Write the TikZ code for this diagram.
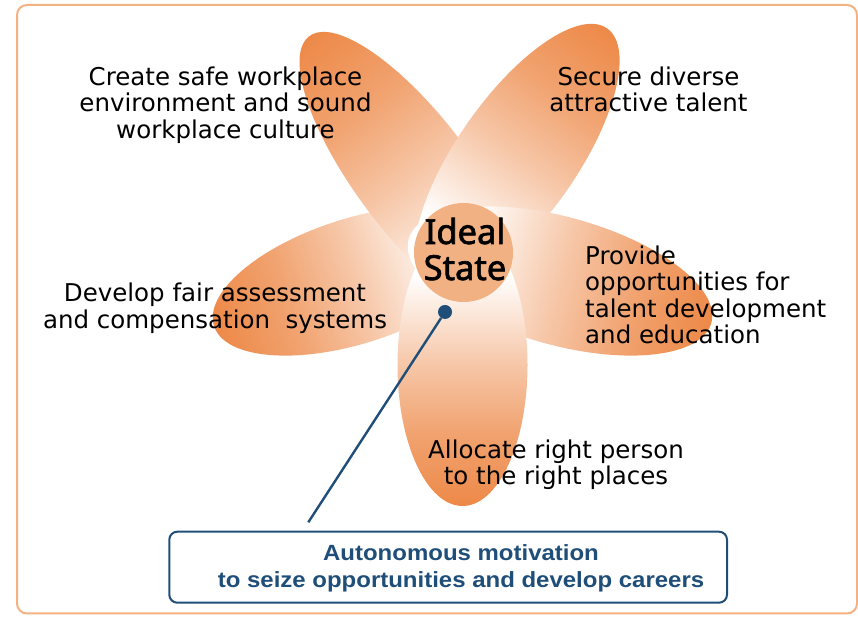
\documentclass[tikz,border=0pt]{standalone}
\usepackage{fontspec}
\newfontfamily\petalfont{DejaVu Sans}
\newfontfamily\hubfont[FakeBold=2]{Noto Sans}
\newfontfamily\notefont[FakeStretch=1.09]{Liberation Sans}

\definecolor{petal}{RGB}{237,137,72}
\definecolor{hubfill}{RGB}{241,177,130}
\definecolor{rim}{RGB}{244,177,131}
\definecolor{navy}{RGB}{31,78,121}

% white at the heart of the flower, orange toward each petal tip
\pgfdeclarehorizontalshading{petalshade}{100bp}{%
  color(0bp)=(white); color(34bp)=(white); color(50bp)=(petal!48);
  color(62bp)=(petal!78); color(75bp)=(petal); color(100bp)=(petal)}

% #1,#2 centre, #3 direction of the tip, #4 half length, #5 half width
\newcommand\flowerpetal[5]{%
  \begin{scope}[transform canvas={shift={(#1,#2)},rotate=#3}]
    \shade[shading=petalshade] (0,0) ellipse [x radius=#4pt, y radius=#5pt];
  \end{scope}}

\begin{document}
\begin{tikzpicture}[x=1pt,y=1pt,
  petaltext/.style={font=\petalfont\fontsize{24.5}{26.6}\selectfont,
    align=center, inner sep=0pt, text=black},
  hub/.style={circle, fill=hubfill, minimum size=99pt, inner sep=0pt},
  hubtext/.style={font=\hubfont\fontsize{34.5}{36}\selectfont,
    align=center, inner sep=0pt},
  pinstyle/.style={circle, fill=navy, minimum size=14pt, inner sep=0pt},
  leader/.style={draw=navy, line width=2.4pt},
  goalbox/.style={draw=navy, line width=2pt, rounded corners=8pt,
    minimum width=557.7pt, minimum height=71pt, inner sep=0pt},
  goaltext/.style={font=\notefont\bfseries\fontsize{22}{26.6}\selectfont,
    text=navy, align=center, inner sep=0pt},
  rimline/.style={draw=rim, line width=2pt, rounded corners=10pt}]

\useasboundingbox (0,0) rectangle (858,617);

% outer frame
\draw[rimline] (17,3.5) rectangle (857,612);

% five petals, back to front
\flowerpetal{355}{336}{197.7}{148}{62.5}
\flowerpetal{414.6}{441}{127}{175}{58}
\flowerpetal{517}{460}{55}{157}{60}
\flowerpetal{560}{336}{-15.5}{157}{64}
\flowerpetal{462.5}{252}{-90}{141}{65}

% centre of the flower (multi-line nodes sit on the baseline of their last line)
\node[hub] (ideal) at (463.5,364.5) {};
\node[hubtext, anchor=base] (idealtext) at (465,337) {Ideal\\State};

% petal labels
\node[petaltext, anchor=base] (culture) at (225.5,478.7)
  {Create safe workplace\\environment and sound\\workplace culture};
\node[petaltext, anchor=base] (talent) at (648.5,505.3)
  {Secure diverse\\attractive talent};
\node[petaltext, anchor=base west, align=left] (growth) at (585,273)
  {Provide\\opportunities for\\talent development\\and education};
\node[petaltext, anchor=base] (reward) at (215,288.7)
  {Develop fair assessment\\and compensation~ systems};
\node[petaltext, anchor=base] (placement) at (556,132)
  {Allocate right person\\to the right places};

% pointer to the note below
\node[pinstyle] (pin) at (445,305) {};
\coordinate (tail) at (308.3,94.7);
\draw[leader] (pin) -- (tail);

% note box
\node[goalbox] (goal) at (448.15,49.8) {};
\node[goaltext, anchor=base] (goaltext) at (461,29.7)
  {Autonomous motivation\\to seize opportunities and develop careers};
\end{tikzpicture}
\end{document}
